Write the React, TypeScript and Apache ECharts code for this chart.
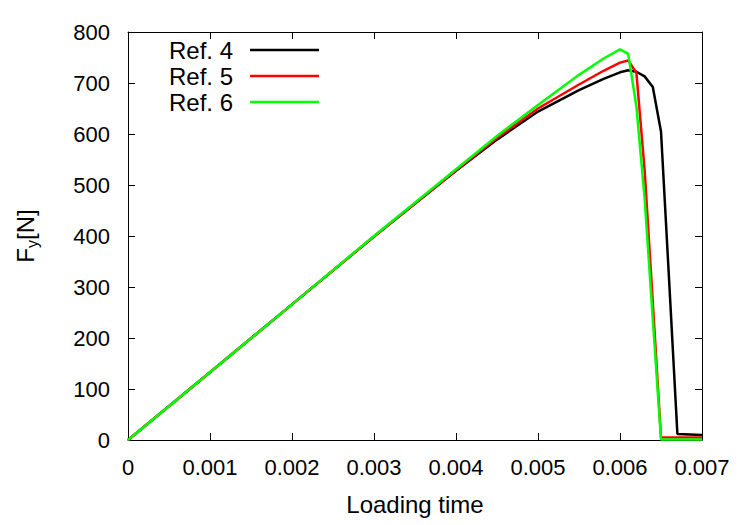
import React, { useEffect, useRef } from 'react';
import * as echarts from 'echarts';

const seriesNames = ['Ref. 4', 'Ref. 5', 'Ref. 6'];
const seriesColors = ['#000000', '#ff0000', '#00ff00'];

const timeRef4 = [0, 0.001, 0.002, 0.003, 0.004, 0.0045, 0.005, 0.0055, 0.0058, 0.006, 0.0061, 0.0062, 0.0063, 0.0064, 0.0065, 0.0066, 0.0067, 0.007];
const forceRef4 = [0, 133, 266, 399, 528, 589, 644, 686, 708, 721, 725, 722, 713, 692, 605, 310, 12, 10];

const timeRef5 = [0, 0.001, 0.002, 0.003, 0.004, 0.0045, 0.005, 0.0055, 0.0058, 0.006, 0.0061, 0.0062, 0.0063, 0.0064, 0.0065, 0.007];
const forceRef5 = [0, 133, 266, 399, 529, 592, 650, 697, 724, 740, 744, 720, 530, 270, 5, 5];

const timeRef6 = [0, 0.001, 0.002, 0.003, 0.004, 0.0045, 0.005, 0.0055, 0.0058, 0.006, 0.0061, 0.0062, 0.0063, 0.0064, 0.0065, 0.007];
const forceRef6 = [0, 133, 266, 400, 531, 596, 657, 716, 748, 766, 757, 654, 474, 237, 1, 1];

const seriesTimes = [timeRef4, timeRef5, timeRef6];
const seriesForces = [forceRef4, forceRef5, forceRef6];

const FONT = '"Liberation Sans", Arial, Helvetica, sans-serif';

export default function App() {
  const ref = useRef<HTMLDivElement>(null);

  useEffect(() => {
    if (!ref.current) return;
    const chart = echarts.init(ref.current, null, { renderer: 'svg' });
    const axisLine = { show: true, onZero: false, lineStyle: { color: '#000', width: 1 } };
    const axisTick = { show: true, inside: true, length: 7, lineStyle: { color: '#000', width: 1 } };
    const xFmt = (v: number) => (v === 0 ? '0' : v.toFixed(3));

    chart.setOption({
      animation: false,
      backgroundColor: '#ffffff',
      textStyle: { fontFamily: FONT },
      grid: { left: 128, right: 48, top: 32, bottom: 85, containLabel: false },
      legend: {
        data: seriesNames,
        orient: 'vertical',
        align: 'right',
        left: 169,
        top: 37,
        padding: 0,
        itemGap: 0,
        icon: 'rect',
        itemWidth: 69,
        itemHeight: 2.5,
        textStyle: { fontSize: 24, color: '#000', fontFamily: FONT, lineHeight: 26, padding: [0, 12, 0, 0] },
      },
      xAxis: [
        {
          type: 'value', min: 0, max: 0.007, interval: 0.001, position: 'bottom',
          name: 'Loading time', nameLocation: 'middle', nameGap: 52,
          nameTextStyle: { fontSize: 24, color: '#000', fontFamily: FONT },
          axisLine, axisTick,
          axisLabel: { margin: 16, fontSize: 22, color: '#000', fontFamily: FONT, formatter: xFmt },
          splitLine: { show: false },
        },
        {
          type: 'value', min: 0, max: 0.007, interval: 0.001, position: 'top',
          axisLine, axisTick, axisLabel: { show: false }, splitLine: { show: false },
        },
      ],
      yAxis: [
        {
          type: 'value', min: 0, max: 800, interval: 100, position: 'left',
          name: '{a|F}{b|y}{a|[N]}', nameLocation: 'middle', nameGap: 88, nameRotate: 90,
          nameTextStyle: {
            color: '#000',
            rich: {
              a: { fontSize: 24, color: '#000', fontFamily: FONT },
              b: { fontSize: 16, color: '#000', fontFamily: FONT, padding: [14, 0, 0, 0] },
            },
          },
          axisLine, axisTick,
          axisLabel: { margin: 18, fontSize: 22, color: '#000', fontFamily: FONT },
          splitLine: { show: false },
        },
        {
          type: 'value', min: 0, max: 800, interval: 100, position: 'right',
          axisLine, axisTick, axisLabel: { show: false }, splitLine: { show: false },
        },
      ],
      series: seriesNames.map((name, i) => ({
        name,
        type: 'line',
        xAxisIndex: 0,
        yAxisIndex: 0,
        symbol: 'none',
        showSymbol: false,
        color: seriesColors[i],
        lineStyle: { color: seriesColors[i], width: 2.5 },
        data: seriesTimes[i].map((t, j) => [t, seriesForces[i][j]]),
      })),
    });

    return () => chart.dispose();
  }, []);

  return <div ref={ref} style={{ width: 750, height: 525, position: 'absolute', left: 0, top: 0 }} />;
}
